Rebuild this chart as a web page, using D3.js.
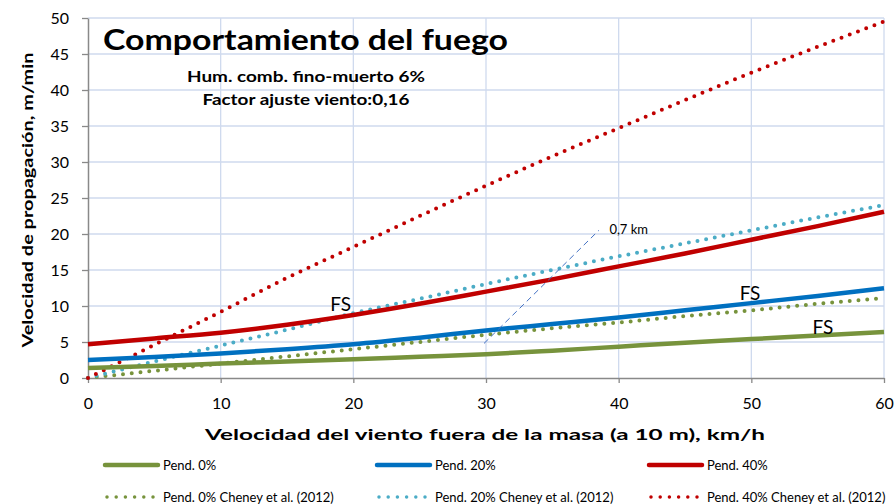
<!DOCTYPE html>
<html>
<head>
<meta charset="utf-8">
<script src="https://cdn.jsdelivr.net/npm/d3@7"></script>
<style>
  html, body { margin: 0; padding: 0; background: #fff; }
  svg { display: block; font-family: Lato, "Open Sans", sans-serif; }
</style>
</head>
<body>
<svg id="chart" width="896" height="504"></svg>
<script>
// ---- data ----
const windSpeed = [0, 5, 10, 15, 20, 25, 30, 35, 40, 45, 50, 55, 60];
const pend0      = [1.4, 1.65, 2.0, 2.3, 2.6, 2.95, 3.3, 3.8, 4.35, 4.9, 5.4, 5.9, 6.4];
const pend20     = [2.5, 2.9, 3.4, 4.0, 4.7, 5.6, 6.6, 7.5, 8.4, 9.4, 10.4, 11.4, 12.45];
const pend40     = [4.7, 5.5, 6.3, 7.4, 8.75, 10.3, 12.0, 13.7, 15.5, 17.3, 19.2, 21.1, 23.1];
const cheney0    = [0, 1.0, 2.0, 3.0, 4.0, 5.0, 6.0, 6.9, 7.7, 8.6, 9.4, 10.3, 11.1];
const cheney20   = [0, 2.3, 4.5, 6.7, 9.0, 11.0, 13.05, 15.0, 16.9, 18.7, 20.5, 22.3, 24.0];
const cheney40   = [0, 4.6, 9.2, 13.9, 18.2, 22.5, 26.7, 30.8, 34.7, 38.6, 42.4, 46.0, 49.5];
const seriesNames = ["Pend. 0%", "Pend. 20%", "Pend. 40%",
  "Pend. 0% Cheney et al. (2012)", "Pend. 20% Cheney et al. (2012)", "Pend. 40% Cheney et al. (2012)"];
const xTicks = [0, 10, 20, 30, 40, 50, 60];
const yTicks = [0, 5, 10, 15, 20, 25, 30, 35, 40, 45, 50];
const fsLabels = [{x: 19.05, y: 10.3}, {x: 49.9, y: 11.8}, {x: 55.4, y: 7.1}];
const kmLine = [{x: 29.85, y: 4.8}, {x: 38.5, y: 20.5}];
const kmLabel = {x: 39.3, y: 20.6, text: "0,7 km"};

const titleText = "Comportamiento del fuego";
const sub1 = "Hum. comb. fino-muerto 6%";
const sub2 = "Factor ajuste viento:0,16";
const xTitle = "Velocidad del viento fuera de la masa (a 10 m), km/h";
const yTitle = "Velocidad de propagación, m/min";

// ---- setup ----
const svg = d3.select("#chart");
svg.append("rect").attr("width", 896).attr("height", 504).attr("fill", "#fff");
const x = d3.scaleLinear().domain([0, 60]).range([88, 884]);
const y = d3.scaleLinear().domain([0, 50]).range([378, 18]);

const gridColor = "#cfdaee";
const axisColor = "#898989";

// grid
svg.append("g").selectAll("line.h").data(yTicks.filter(d => d > 0)).join("line")
  .attr("x1", x(0)).attr("x2", x(60)).attr("y1", d => y(d)).attr("y2", d => y(d))
  .attr("stroke", gridColor).attr("stroke-width", 1.3);
svg.append("g").selectAll("line.v").data(xTicks.filter(d => d > 0)).join("line")
  .attr("y1", y(0)).attr("y2", y(50)).attr("x1", d => x(d)).attr("x2", d => x(d))
  .attr("stroke", gridColor).attr("stroke-width", 1.3);

// axes
const yAxis = svg.append("g").attr("transform", `translate(${x(0)},0)`)
  .call(d3.axisLeft(y).tickValues(yTicks).tickSize(6).tickSizeOuter(0).tickPadding(13));
const xAxis = svg.append("g").attr("transform", `translate(0,${y(0)})`)
  .call(d3.axisBottom(x).tickValues(xTicks).tickSize(5).tickSizeOuter(0).tickPadding(15));
[xAxis, yAxis].forEach(g => {
  g.select(".domain").attr("stroke", axisColor).attr("stroke-width", 1.5);
  g.selectAll(".tick line").attr("stroke", axisColor).attr("stroke-width", 1.3);
  g.selectAll(".tick text").attr("fill", "#000").style("font-size", "16px")
    .style("font-family", "Lato, sans-serif");
});

// series
const line = d3.line().x(d => x(d[0])).y(d => y(d[1])).curve(d3.curveMonotoneX);
const series = [
  {vals: pend0, color: "#77933C", dotted: false},
  {vals: pend20, color: "#0070C0", dotted: false},
  {vals: pend40, color: "#C00000", dotted: false},
  {vals: cheney0, color: "#77933C", dotted: true},
  {vals: cheney20, color: "#4BACC6", dotted: true},
  {vals: cheney40, color: "#C00000", dotted: true}
];
const drawOrder = [3, 4, 5, 0, 1, 2];
drawOrder.forEach(i => {
  const s = series[i];
  const p = svg.append("path")
    .attr("d", line(windSpeed.map((w, j) => [w, s.vals[j]])))
    .attr("fill", "none").attr("stroke", s.color);
  if (s.dotted) {
    p.attr("stroke-width", 4).attr("stroke-linecap", "round").attr("stroke-dasharray", "0 8.8");
  } else {
    p.attr("stroke-width", 4.5).attr("stroke-linecap", "butt");
  }
});

// 0,7 km dashed line
svg.append("path")
  .attr("d", d3.line().x(d => x(d.x)).y(d => y(d.y))(kmLine))
  .attr("fill", "none").attr("stroke", "#4472C4").attr("stroke-width", 1)
  .attr("stroke-dasharray", "6 4");
svg.append("text").attr("x", x(kmLabel.x)).attr("y", y(kmLabel.y) + 4)
  .text(kmLabel.text).style("font-size", "13px").attr("fill", "#000");

// FS labels
svg.append("g").selectAll("text").data(fsLabels).join("text")
  .attr("x", d => x(d.x)).attr("y", d => y(d.y)).attr("dy", "0.36em")
  .attr("text-anchor", "middle").style("font-size", "19px").attr("fill", "#000")
  .text("FS");

// titles
function fitText(sel, width) {
  sel.attr("textLength", width).attr("lengthAdjust", "spacingAndGlyphs");
}
svg.append("text").attr("x", 103).attr("y", 50).text(titleText)
  .style("font-size", "28px").style("font-weight", "bold").call(fitText, 405);
svg.append("text").attr("x", 306).attr("y", 82).attr("text-anchor", "middle").text(sub1)
  .style("font-size", "15px").style("font-weight", "bold").call(fitText, 238);
svg.append("text").attr("x", 306).attr("y", 105).attr("text-anchor", "middle").text(sub2)
  .style("font-size", "15px").style("font-weight", "bold").call(fitText, 207);

svg.append("text").attr("x", 485).attr("y", 440).attr("text-anchor", "middle").text(xTitle)
  .style("font-size", "16px").style("font-weight", "bold").call(fitText, 560);
svg.append("text").attr("transform", "translate(33,200) rotate(-90)")
  .attr("text-anchor", "middle").text(yTitle)
  .style("font-size", "16px").style("font-weight", "bold").call(fitText, 295);

// legend
const legendCols = [105, 377, 649];
const legendRows = [465, 497];
const legend = svg.append("g");
series.forEach((s, i) => {
  const cx = legendCols[i % 3], cy = legendRows[Math.floor(i / 3)];
  if (s.dotted) {
    legend.append("line").attr("x1", cx + 2).attr("x2", cx + 53).attr("y1", cy).attr("y2", cy)
      .attr("stroke", s.color).attr("stroke-width", 3.5).attr("stroke-linecap", "round")
      .attr("stroke-dasharray", "0 9.2");
  } else {
    legend.append("line").attr("x1", cx).attr("x2", cx + 53).attr("y1", cy).attr("y2", cy)
      .attr("stroke", s.color).attr("stroke-width", 4.5).attr("stroke-linecap", "round");
  }
  legend.append("text").attr("x", cx + 58).attr("y", cy).attr("dy", "0.35em")
    .style("font-size", "13px").attr("fill", "#000").text(seriesNames[i]);
});
</script>
</body>
</html>
